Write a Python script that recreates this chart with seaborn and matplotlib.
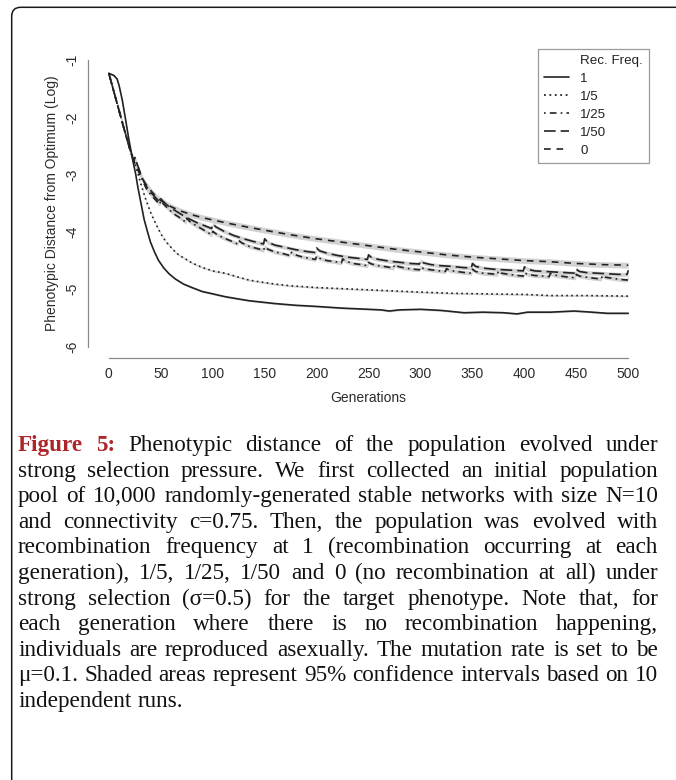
import numpy as np
import pandas as pd
import matplotlib
matplotlib.use("Agg")
import matplotlib.pyplot as plt
import seaborn as sns
from matplotlib.lines import Line2D
from matplotlib.patches import FancyBboxPatch
from matplotlib.transforms import IdentityTransform

############################ data ############################
freq_levels = ["1", "1/5", "1/25", "1/50", "0"]

gen_f1 = [0, 5, 8, 10, 13, 16, 19, 22, 24, 26, 28, 31, 34, 37, 40, 44, 48, 53, 58, 64,
          72, 80, 90, 100, 112, 125, 135, 145, 160, 180, 200, 225, 250, 262, 270, 280,
          300, 320, 342, 360, 380, 393, 403, 425, 448, 465, 480, 500]
val_f1 = [-1.23, -1.27, -1.33, -1.45, -1.70, -2.02, -2.35, -2.65, -2.83, -3.00, -3.22,
          -3.50, -3.78, -3.98, -4.17, -4.35, -4.50, -4.63, -4.73, -4.82, -4.91, -4.97,
          -5.04, -5.08, -5.13, -5.17, -5.20, -5.22, -5.25, -5.28, -5.30, -5.33, -5.35,
          -5.36, -5.38, -5.36, -5.35, -5.37, -5.41, -5.40, -5.41, -5.43, -5.40, -5.40,
          -5.38, -5.40, -5.42, -5.42]

gen_f5 = [0, 5, 10, 15, 20, 25, 28, 31, 35, 40, 45, 50, 55, 60, 65, 70, 80, 90, 100,
          112, 125, 135, 145, 160, 175, 200, 225, 250, 275, 300, 330, 360, 400, 425,
          460, 500]
val_f5 = [-1.23, -1.56, -1.89, -2.22, -2.52, -2.80, -2.98, -3.17, -3.40, -3.65, -3.85,
          -4.03, -4.17, -4.27, -4.37, -4.43, -4.54, -4.62, -4.68, -4.72, -4.79, -4.84,
          -4.87, -4.91, -4.94, -4.97, -4.99, -5.01, -5.03, -5.05, -5.07, -5.08, -5.09,
          -5.11, -5.11, -5.12]

gen_f25 = [0, 5, 10, 15, 20, 24, 25, 28, 32, 36, 40, 45, 49, 50, 53, 58, 64, 70, 74, 75,
           78, 84, 90, 99, 100, 103, 110, 118, 124, 125, 128, 135, 143, 149, 150, 153,
           160, 168, 174, 175, 178, 185, 193, 199, 200, 203, 210, 218, 224, 225, 228,
           235, 243, 249, 250, 253, 260, 268, 274, 275, 278, 285, 293, 299, 300, 303,
           310, 318, 324, 325, 328, 335, 343, 349, 350, 353, 360, 368, 374, 375, 378,
           385, 393, 399, 400, 403, 410, 418, 424, 425, 428, 435, 443, 449, 450, 453,
           460, 468, 474, 475, 478, 485, 493, 499, 500]
val_f25 = [-1.23, -1.56, -1.89, -2.22, -2.53, -2.76, -2.70, -2.86, -3.08, -3.24, -3.34,
           -3.44, -3.52, -3.45, -3.52, -3.61, -3.70, -3.77, -3.83, -3.76, -3.82, -3.89,
           -3.95, -4.05, -3.99, -4.03, -4.10, -4.16, -4.21, -4.15, -4.19, -4.25, -4.29,
           -4.32, -4.26, -4.30, -4.35, -4.38, -4.41, -4.35, -4.39, -4.43, -4.46, -4.48,
           -4.42, -4.46, -4.50, -4.52, -4.54, -4.47, -4.51, -4.55, -4.57, -4.59, -4.53,
           -4.56, -4.59, -4.61, -4.63, -4.57, -4.60, -4.63, -4.65, -4.66, -4.61, -4.64,
           -4.66, -4.68, -4.69, -4.64, -4.67, -4.69, -4.71, -4.72, -4.65, -4.69, -4.72,
           -4.73, -4.74, -4.68, -4.72, -4.74, -4.76, -4.77, -4.71, -4.74, -4.76, -4.77,
           -4.78, -4.72, -4.75, -4.77, -4.79, -4.80, -4.74, -4.77, -4.79, -4.81, -4.82,
           -4.76, -4.79, -4.81, -4.83, -4.84, -4.78]

gen_f50 = [0, 5, 10, 15, 20, 24, 25, 28, 32, 36, 40, 45, 49, 50, 53, 58, 65, 75, 85, 92,
           99, 100, 103, 110, 120, 130, 140, 149, 150, 153, 160, 170, 180, 190, 199,
           200, 203, 210, 220, 230, 240, 249, 250, 253, 260, 270, 280, 290, 299, 300,
           303, 310, 320, 330, 340, 349, 350, 353, 360, 370, 380, 390, 399, 400, 403,
           410, 420, 430, 440, 449, 450, 453, 460, 470, 480, 490, 499, 500]
val_f50 = [-1.23, -1.56, -1.89, -2.22, -2.54, -2.77, -2.71, -2.85, -3.05, -3.20, -3.30,
           -3.40, -3.48, -3.42, -3.48, -3.56, -3.64, -3.75, -3.84, -3.89, -3.94, -3.86,
           -3.91, -3.98, -4.06, -4.12, -4.17, -4.21, -4.12, -4.18, -4.23, -4.27, -4.31,
           -4.34, -4.36, -4.28, -4.33, -4.37, -4.41, -4.44, -4.46, -4.48, -4.40, -4.45,
           -4.48, -4.51, -4.53, -4.55, -4.56, -4.50, -4.54, -4.57, -4.59, -4.60, -4.62,
           -4.63, -4.55, -4.60, -4.63, -4.65, -4.66, -4.67, -4.68, -4.61, -4.65, -4.68,
           -4.69, -4.70, -4.71, -4.72, -4.65, -4.69, -4.71, -4.72, -4.73, -4.74, -4.74,
           -4.67]

gen_f0 = [0, 5, 10, 15, 20, 25, 30, 35, 40, 45, 50, 60, 70, 80, 90, 100, 115, 135, 150,
          175, 200, 225, 250, 275, 300, 325, 350, 375, 400, 425, 450, 475, 500]
val_f0 = [-1.23, -1.56, -1.89, -2.22, -2.54, -2.80, -3.00, -3.15, -3.27, -3.37, -3.45,
          -3.56, -3.64, -3.70, -3.75, -3.79, -3.85, -3.92, -3.97, -4.05, -4.12, -4.18,
          -4.24, -4.30, -4.35, -4.40, -4.44, -4.47, -4.50, -4.52, -4.55, -4.57, -4.58]

# half width of the grey 95% band, per series
ci_half = {"1": 0.015, "1/5": 0.015, "1/25": 0.035, "1/50": 0.035, "0": 0.05}

x_ticks = [0, 50, 100, 150, 200, 250, 300, 350, 400, 450, 500]
y_ticks = [-6, -5, -4, -3, -2, -1]

caption_lines = [
    "Figure 5: Phenotypic distance of the population evolved under",
    "strong selection pressure. We first collected an initial population",
    "pool of 10,000 randomly-generated stable networks with size N=10",
    "and connectivity c=0.75. Then, the population was evolved with",
    "recombination frequency at 1 (recombination occurring at each",
    "generation), 1/5, 1/25, 1/50 and 0 (no recombination at all) under",
    "strong selection (σ=0.5) for the target phenotype. Note that, for",
    "each generation where there is no recombination happening,",
    "individuals are reproduced asexually. The mutation rate is set to be",
    "μ=0.1. Shaded areas represent 95% confidence intervals based on 10",
    "independent runs.",
]

############################ long table ############################
series = {"1": (gen_f1, val_f1), "1/5": (gen_f5, val_f5), "1/25": (gen_f25, val_f25),
          "1/50": (gen_f50, val_f50), "0": (gen_f0, val_f0)}
frames = []
for k in freq_levels:
    g, v = series[k]
    frames.append(pd.DataFrame({"gen": g, "val": v, "freq": k}))
df = pd.concat(frames, ignore_index=True)

############################ plot ############################
sns.set_style("white")
plt.rcParams["font.family"] = ["Liberation Sans", "DejaVu Sans"]

W, H = 676, 780
fig = plt.figure(figsize=(W / 100, H / 100), dpi=100)
ax = fig.add_axes([88 / W, 1 - 358 / H, (649 - 88) / W, (358 - 48.6) / H])

line_col = "#222222"
dash_map = {"1": "", "1/5": (1, 2), "1/25": (1, 2.5, 4, 2.5), "1/50": (7, 3), "0": (4, 3.5)}
width_map = {"1": 1.2, "1/5": 1.3, "1/25": 1.2, "1/50": 1.2, "0": 1.2}

for k in freq_levels:
    d = df[df["freq"] == k]
    ax.fill_between(d["gen"], d["val"] - ci_half[k], d["val"] + ci_half[k],
                    color="#d2d2d2", lw=0, zorder=1)

sns.lineplot(data=df, x="gen", y="val", style="freq", style_order=freq_levels,
             dashes=dash_map, color=line_col, lw=1.2, errorbar=None,
             legend=False, ax=ax, zorder=3)

ax.set_xlim(-20, 520)
ax.set_ylim(-6.2, -0.8)
ax.set_xticks(x_ticks)
ax.set_yticks(y_ticks)
ax.set_yticklabels([str(t) for t in y_ticks], rotation=90, va="center")
for s in ["top", "right"]:
    ax.spines[s].set_visible(False)
ax.spines["left"].set_bounds(-6, -1)
ax.spines["bottom"].set_bounds(0, 500)
for s in ["left", "bottom"]:
    ax.spines[s].set_color("#8a8a8a")
    ax.spines[s].set_linewidth(0.9)
ax.tick_params(axis="both", direction="out", length=3.6, width=0.9, color="#8a8a8a",
               labelsize=10, labelcolor="#2b2b2b")
ax.tick_params(axis="x", pad=3)
ax.tick_params(axis="y", pad=2.5)
ax.set_xlabel("Generations", fontsize=10, color="#2b2b2b", labelpad=7)
ax.set_ylabel("Phenotypic Distance from Optimum (Log)", fontsize=10, color="#2b2b2b",
              labelpad=5)

handles = [Line2D([], [], linestyle="none")]
for k in freq_levels:
    h = Line2D([], [], color=line_col, lw=width_map[k])
    if dash_map[k]:
        h.set_dashes(dash_map[k])
    handles.append(h)
leg = ax.legend(handles, ["Rec. Freq."] + freq_levels, loc="upper right",
                bbox_to_anchor=(1, 1), borderaxespad=0, fancybox=False,
                edgecolor="#9a9a9a", framealpha=1, fontsize=9.6, handlelength=1.85,
                handletextpad=0.85, labelspacing=0.42, borderpad=0.45)
leg.get_frame().set_linewidth(0.9)
for t in leg.get_texts():
    t.set_color("#222222")

# panel border (rounded top-left corner, runs off the right and bottom)
border = FancyBboxPatch((11.7, -60), 720, (H - 7.3) + 60,
                        boxstyle="round,pad=0,rounding_size=9",
                        transform=IdentityTransform(), fill=False,
                        ec="#1a1a1a", lw=1.1)
fig.add_artist(border)

############################ justified caption ############################
fig.canvas.draw()
rend = fig.canvas.get_renderer()
serif = ["Liberation Serif", "DejaVu Serif"]
red = "#ad262b"


def width_of(s, size, bold=False):
    t = fig.text(0, 0, s, fontsize=size, family=serif,
                 weight="bold" if bold else "normal")
    w = t.get_window_extent(rend).width
    t.remove()
    return w


left_px, right_px = 18, 658
avail = right_px - left_px
base = 12
space_base = width_of("x x", base) - width_of("xx", base)
nat = []
for i, line in enumerate(caption_lines[:-1]):
    words = line.split(" ")
    ws = [width_of(w, base, bold=(i == 0 and j < 2)) for j, w in enumerate(words)]
    nat.append(sum(ws) + space_base * (len(words) - 1))
cap_size = base * 0.99 * avail / max(nat)

y0, dy = 451, 25.6
for i, line in enumerate(caption_lines):
    words = line.split(" ")
    bolds = [(i == 0 and j < 2) for j in range(len(words))]
    ws = [width_of(w, cap_size, b) for w, b in zip(words, bolds)]
    if i < len(caption_lines) - 1:
        gap = (avail - sum(ws)) / (len(words) - 1)
    else:
        gap = width_of("x x", cap_size) - width_of("xx", cap_size)
    x = left_px
    ypx = y0 + i * dy
    for w, b, wd in zip(words, bolds, ws):
        fig.text(x / W, 1 - ypx / H, w, fontsize=cap_size, family=serif,
                 weight="bold" if b else "normal", color=red if b else "#111111",
                 ha="left", va="baseline")
        x += wd + gap

fig.savefig("out.png", dpi=100)
